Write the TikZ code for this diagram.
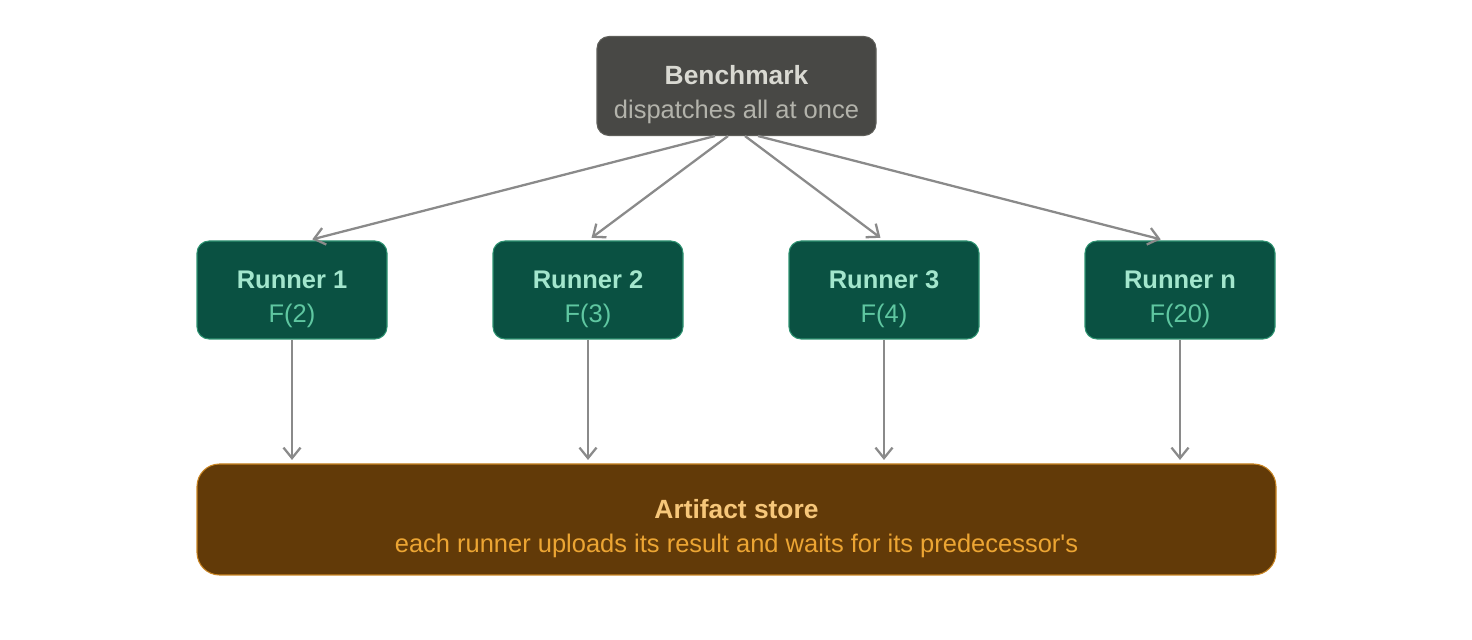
\documentclass[tikz,border=0pt]{standalone}
\usepackage{fontspec}
\setmainfont{Liberation Sans}
\usetikzlibrary{arrows.meta, positioning}
\definecolor{benchfill}{HTML}{484845}
\definecolor{benchline}{HTML}{5E5E59}
\definecolor{benchtitle}{HTML}{D9D9D2}
\definecolor{benchsub}{HTML}{B3B3AB}
\definecolor{runfill}{HTML}{0A5142}
\definecolor{runline}{HTML}{2F9472}
\definecolor{runtitle}{HTML}{A3E6CD}
\definecolor{runsub}{HTML}{5FC7A1}
\definecolor{storefill}{HTML}{623A08}
\definecolor{storeline}{HTML}{C98523}
\definecolor{storetitle}{HTML}{F7C77A}
\definecolor{storesub}{HTML}{ECA533}
\definecolor{arrowgray}{HTML}{8A8A8A}
\newcommand{\topstrut}{\rule{0pt}{21pt}}
\tikzset{
  boxtext/.style={rectangle, align=center, inner sep=0pt, line width=0.6pt, font=\fontsize{14.5}{19.5}\selectfont},
  bench/.style={boxtext, rounded corners=0.24cm, minimum width=5.58cm, minimum height=1.98cm, draw=benchline, fill=benchfill},
  runner/.style={boxtext, rounded corners=0.24cm, minimum width=3.8cm, minimum height=1.96cm, draw=runline, fill=runfill},
  store/.style={boxtext, rounded corners=0.45cm, minimum width=21.58cm, minimum height=2.22cm, draw=storeline, fill=storefill},
  arrow/.style={draw=arrowgray, line width=1.3pt, -{Straight Barb[length=2.1mm, width=3.4mm]}}
}
\begin{document}
\begin{tikzpicture}
    \useasboundingbox (0,0) rectangle (29.44,-12.8);

    % Dispatcher on top
    \node[bench] (bench) at (14.73,-1.72)
        {\topstrut{\fontsize{15}{19.5}\selectfont\bfseries\color{benchtitle}Benchmark}\\{\color{benchsub}dispatches all at once}};

    % Shared store at the bottom
    \node[store] (store) at (14.73,-10.39)
        {\topstrut{\fontsize{15}{19.5}\selectfont\bfseries\color{storetitle}Artifact store}\\{\color{storesub}each runner uploads its result and waits for its predecessor\textquotesingle s}};

    % Runners in a row, each one fed by the dispatcher and writing to the store
    \foreach \lab/\val/\off/\tip [count=\i] in {1/2/-0.43/0.32, 2/3/-0.17/0, 3/4/0.17/0, n/20/0.43/-0.3} {
        \node[runner] (r\i) at ({5.84+(\i-1)*5.92},-5.8)
            {\topstrut{\bfseries\color{runtitle}Runner \lab}\\{\color{runsub}F(\val)}};
        \draw[arrow, shorten >=2.5pt] ([xshift=\off cm]bench.south) -- ([xshift=\tip cm]r\i.north);
        \draw[arrow, shorten >=2pt] (r\i.south) -- (r\i.south |- store.north);
    }
\end{tikzpicture}
\end{document}
